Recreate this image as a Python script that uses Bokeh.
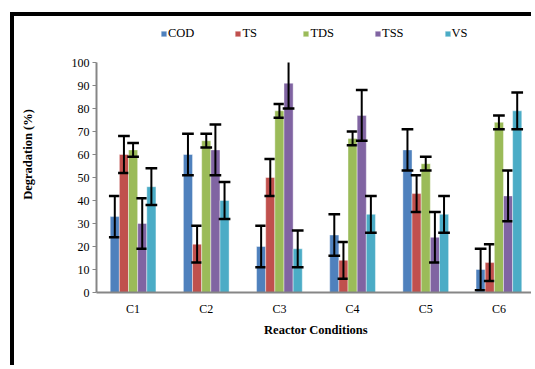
from bokeh.plotting import figure
from bokeh.models import (ColumnDataSource, FactorRange, Range1d, FixedTicker,
                          Legend, LegendItem)
from bokeh.transform import dodge
from bokeh.embed import file_html
from bokeh.resources import INLINE

# ---- data ----
categories = ["C1", "C2", "C3", "C4", "C5", "C6"]
series_names = ["COD", "TS", "TDS", "TSS", "VS"]
cod = [33, 60, 20, 25, 62, 10]
ts = [60, 21, 50, 14, 43, 13]
tds = [62, 66, 79, 67, 56, 74]
tss = [30, 62, 91, 77, 24, 42]
vs = [46, 40, 19, 34, 34, 79]
cod_err = [9, 9, 9, 9, 9, 9]
ts_err = [8, 8, 8, 8, 8, 8]
tds_err = [3, 3, 3, 3, 3, 3]
tss_err = [11, 11, 11, 11, 11, 11]
vs_err = [8, 8, 8, 8, 8, 8]
y_ticks = [0, 10, 20, 30, 40, 50, 60, 70, 80, 90, 100]
y_max = 100

values = [cod, ts, tds, tss, vs]
errors = [cod_err, ts_err, tds_err, tss_err, vs_err]
colors = ["#4F81BD", "#C0504D", "#9BBB59", "#8064A2", "#4BACC6"]
offsets = [-0.25, -0.125, 0.0, 0.125, 0.25]
bar_w = 0.125
cap_half = 0.08

FONT = "'Liberation Serif', 'Times New Roman', serif"

# frame extends above the value axis so the legend sits inside it;
# the axis itself is bounded to 0..100 as in the original
p = figure(x_range=FactorRange(*categories, range_padding=0),
           y_range=Range1d(0, 120),
           width=521, height=353,
           output_backend="svg", toolbar_location=None,
           min_border_left=82, min_border_right=0,
           min_border_top=0, min_border_bottom=77)
p.styles = {"border-left": "4px solid black", "border-top": "4px solid black",
            "margin-left": "10px", "margin-top": "12px"}
p.outline_line_color = None
p.xgrid.grid_line_color = None
p.ygrid.grid_line_color = None
p.background_fill_color = "white"
p.border_fill_color = "white"

renderers = []
for name, vals, errs, col, off in zip(series_names, values, errors, colors, offsets):
    lo = [v - e for v, e in zip(vals, errs)]
    hi = [v + e for v, e in zip(vals, errs)]
    src = ColumnDataSource(dict(
        cat=categories, top=vals, lo=lo,
        hi=[min(h, y_max) for h in hi],   # axis maximum clips the bar
    ))
    r = p.vbar(x=dodge("cat", off, range=p.x_range), top="top", width=bar_w,
               source=src, fill_color=col, line_color="white", line_width=0.6,
               line_alpha=0.7)
    renderers.append((name, r))
    # stem
    p.segment(x0=dodge("cat", off, range=p.x_range), y0="lo",
              x1=dodge("cat", off, range=p.x_range), y1="hi",
              source=src, line_color="black", line_width=2)
    # caps (an upper cap beyond the axis maximum is not shown)
    cap_src = ColumnDataSource(dict(
        cat=categories + [c for c, h in zip(categories, hi) if h <= y_max],
        y=lo + [h for h in hi if h <= y_max],
    ))
    p.segment(x0=dodge("cat", off - cap_half, range=p.x_range), y0="y",
              x1=dodge("cat", off + cap_half, range=p.x_range), y1="y",
              source=cap_src, line_color="black", line_width=2.5)

# axes
p.yaxis.ticker = FixedTicker(ticks=y_ticks)
p.yaxis.bounds = (0, y_max)
p.yaxis.minor_tick_line_color = None
p.yaxis.major_tick_in = 0
p.yaxis.major_tick_out = 4
p.yaxis.axis_line_color = "#868686"
p.yaxis.axis_line_width = 2
p.yaxis.major_tick_line_color = "#868686"
p.yaxis.major_label_standoff = 3
p.yaxis.axis_label = "Degradation (%)"
p.yaxis.axis_label_standoff = 34
p.yaxis.major_label_text_font = FONT
p.yaxis.major_label_text_font_size = "12px"
p.yaxis.major_label_text_color = "black"
p.yaxis.axis_label_text_font = FONT
p.yaxis.axis_label_text_font_size = "12.5px"
p.yaxis.axis_label_text_font_style = "bold"
p.yaxis.axis_label_text_color = "black"

p.xaxis.major_tick_line_color = None
p.xaxis.major_tick_in = 0
p.xaxis.major_tick_out = 0
p.xaxis.axis_line_color = "#868686"
p.xaxis.axis_line_width = 2
p.xaxis.major_label_standoff = 9
p.xaxis.axis_label = "Reactor Conditions"
p.xaxis.axis_label_standoff = 4
p.xaxis.major_label_text_font = FONT
p.xaxis.major_label_text_font_size = "12px"
p.xaxis.major_label_text_color = "black"
p.xaxis.axis_label_text_font = FONT
p.xaxis.axis_label_text_font_size = "12.5px"
p.xaxis.axis_label_text_font_style = "bold"
p.xaxis.axis_label_text_color = "black"

legend = Legend(items=[LegendItem(label=n, renderers=[r]) for n, r in renderers],
                orientation="horizontal", location=(64, 251),
                glyph_width=7, glyph_height=7, label_standoff=1, spacing=40,
                padding=0, margin=0, border_line_color=None,
                background_fill_alpha=0,
                label_text_font=FONT, label_text_font_size="12.5px",
                label_height=14, label_text_color="black")
p.add_layout(legend, "center")

open("out.html", "w").write(file_html(p, INLINE))
